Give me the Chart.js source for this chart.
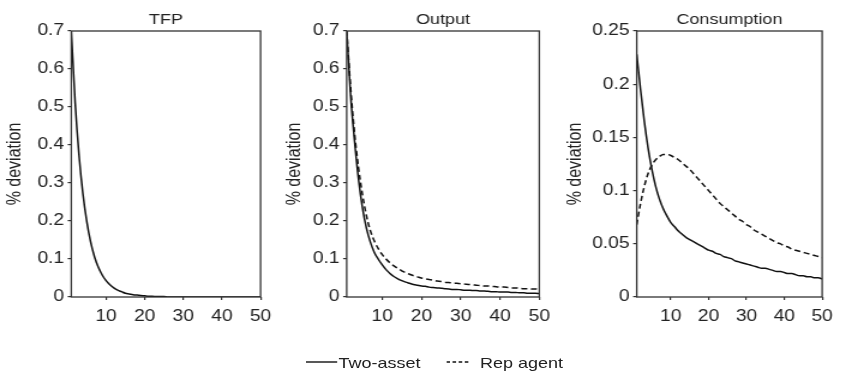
<!DOCTYPE html>
<html>
<head>
<meta charset="utf-8">
<script src="https://cdn.jsdelivr.net/npm/chart.js@4.4.1/dist/chart.umd.min.js"></script>
<style>
  html, body { margin: 0; padding: 0; background: #fff; }
  /* the whole figure is drawn slightly narrow and widened horizontally */
  #stage { position: absolute; left: 0; top: 0; width: 701px; height: 390px;
           transform: scaleX(1.2); transform-origin: 0 0; }
  #stage canvas { position: absolute; top: 0; }
  .leg { position: absolute; font-family: "Liberation Sans", Arial, sans-serif;
         font-size: 15px; color: #222; line-height: 18px; white-space: nowrap; }
</style>
</head>
<body>
<div id="stage">
  <canvas id="cTFP" width="233" height="330" style="left:0px;width:233px;height:330px"></canvas>
  <canvas id="cOut" width="234" height="330" style="left:233px;width:234px;height:330px"></canvas>
  <canvas id="cCons" width="234" height="330" style="left:467px;width:234px;height:330px"></canvas>
  <svg width="30" height="6" style="position:absolute;left:255px;top:359px">
    <line x1="0" y1="3" x2="26" y2="3" stroke="#111" stroke-width="1.4"/>
  </svg>
  <div class="leg" style="left:282px;top:354px">Two-asset</div>
  <svg width="22" height="6" style="position:absolute;left:372px;top:359px">
    <line x1="0" y1="3" x2="18.3" y2="3" stroke="#111" stroke-width="1.4" stroke-dasharray="3 2.1"/>
  </svg>
  <div class="leg" style="left:400px;top:354px">Rep agent</div>
</div>
<script>
// Impulse responses over 50 periods
const periods = Array.from({ length: 50 }, (_, i) => i + 1);

const tfp = [
  0.700, 0.511, 0.373, 0.272, 0.199, 0.145, 0.106, 0.078, 0.058, 0.043,
  0.032, 0.024, 0.018, 0.014, 0.010, 0.008, 0.006, 0.005, 0.004, 0.003,
  0.002, 0.002, 0.001, 0.001, 0.001, 0.000, 0.000, 0.000, 0.000, 0.000,
  0.000, 0.000, 0.000, 0.000, 0.000, 0.000, 0.000, 0.000, 0.000, 0.000,
  0.000, 0.000, 0.000, 0.000, 0.000, 0.000, 0.000, 0.000, 0.000, 0.000
];

const outputTwoAsset = [
  0.700, 0.530, 0.410, 0.310, 0.235, 0.182, 0.145, 0.118, 0.100, 0.085,
  0.072, 0.062, 0.054, 0.048, 0.043, 0.039, 0.036, 0.033, 0.031, 0.029,
  0.028, 0.026, 0.025, 0.024, 0.023, 0.022, 0.021, 0.020, 0.020, 0.019,
  0.018, 0.018, 0.017, 0.017, 0.016, 0.016, 0.015, 0.014, 0.014, 0.013,
  0.013, 0.013, 0.012, 0.012, 0.011, 0.011, 0.010, 0.010, 0.010, 0.009
];

const outputRepAgent = [
  0.700, 0.550, 0.430, 0.340, 0.270, 0.215, 0.175, 0.148, 0.128, 0.112,
  0.100, 0.090, 0.082, 0.075, 0.069, 0.064, 0.060, 0.056, 0.053, 0.050,
  0.048, 0.046, 0.044, 0.042, 0.041, 0.039, 0.038, 0.037, 0.036, 0.035,
  0.034, 0.033, 0.032, 0.031, 0.030, 0.029, 0.029, 0.028, 0.027, 0.026,
  0.026, 0.025, 0.024, 0.024, 0.023, 0.022, 0.022, 0.021, 0.021, 0.020
];

const consTwoAsset = [
  0.228, 0.195, 0.165, 0.140, 0.120, 0.104, 0.092, 0.083, 0.076, 0.070,
  0.066, 0.062, 0.059, 0.056, 0.054, 0.052, 0.050, 0.048, 0.046, 0.044,
  0.043, 0.041, 0.040, 0.038, 0.037, 0.036, 0.034, 0.033, 0.032, 0.031,
  0.030, 0.029, 0.028, 0.027, 0.027, 0.026, 0.025, 0.024, 0.024, 0.023,
  0.022, 0.022, 0.021, 0.020, 0.020, 0.019, 0.019, 0.018, 0.018, 0.017
];

const consRepAgent = [
  0.068, 0.088, 0.104, 0.116, 0.124, 0.129, 0.132, 0.134, 0.134, 0.133,
  0.131, 0.129, 0.126, 0.123, 0.120, 0.116, 0.112, 0.108, 0.104, 0.100,
  0.096, 0.092, 0.088, 0.085, 0.082, 0.079, 0.076, 0.073, 0.071, 0.068,
  0.066, 0.063, 0.061, 0.059, 0.057, 0.055, 0.053, 0.051, 0.050, 0.048,
  0.047, 0.045, 0.044, 0.043, 0.042, 0.041, 0.040, 0.039, 0.038, 0.037
];

const xTicks = [10, 20, 30, 40, 50];
const yTicksLevel = [0, 0.1, 0.2, 0.3, 0.4, 0.5, 0.6, 0.7];
const yTicksCons = [0, 0.05, 0.1, 0.15, 0.2, 0.25];

const FONT = '"Liberation Sans", Arial, sans-serif';
const INK = '#111';
const TEXT = '#222';

// box around each plot area
const frame = {
  id: 'frame',
  afterDatasetsDraw(chart) {
    const { ctx, chartArea: a } = chart;
    ctx.save();
    ctx.strokeStyle = '#333';
    ctx.lineWidth = 1.3;
    ctx.strokeRect(a.left, a.top, a.right - a.left, a.bottom - a.top);
    ctx.restore();
  }
};

function series(values, dashed) {
  return {
    data: periods.map((p, i) => ({ x: p, y: values[i] })),
    borderColor: INK,
    borderWidth: 1.5,
    borderDash: dashed ? [5, 3] : [],
    pointRadius: 0,
    fill: false,
    cubicInterpolationMode: 'monotone'
  };
}

function panel(id, title, yMax, yTicks, datasets, yWidth, padRight) {
  const tickGrid = { display: true, drawOnChartArea: false, drawTicks: true,
                     tickLength: 3, color: '#333', lineWidth: 1.2 };
  new Chart(document.getElementById(id), {
    type: 'line',
    data: { datasets },
    plugins: [frame],
    options: {
      responsive: false,
      animation: false,
      layout: { padding: { left: 0, right: padRight, top: 0, bottom: 0 } },
      plugins: {
        legend: { display: false },
        tooltip: { enabled: false },
        title: {
          display: true, text: title, fullSize: false, color: TEXT,
          font: { family: FONT, size: 15, weight: 'normal' },
          padding: { top: 11, bottom: 2 }
        }
      },
      scales: {
        x: {
          type: 'linear', min: 1, max: 50,
          afterBuildTicks: s => { s.ticks = xTicks.map(v => ({ value: v })); },
          afterFit: s => { s.height = 33; },
          grid: tickGrid,
          border: { display: false },
          ticks: { color: TEXT, font: { family: FONT, size: 16 }, padding: 7,
                   maxRotation: 0, autoSkip: false }
        },
        y: {
          type: 'linear', min: 0, max: yMax,
          afterBuildTicks: s => { s.ticks = yTicks.map(v => ({ value: v })); },
          afterFit: s => { s.width = yWidth; },
          grid: tickGrid,
          border: { display: false },
          ticks: { color: TEXT, font: { family: FONT, size: 16 }, padding: 3,
                   autoSkip: false, callback: v => String(v) },
          title: { display: true, text: '% deviation', color: TEXT,
                   font: { family: FONT, size: 16 }, padding: { top: 3, bottom: 0 } }
        }
      }
    }
  });
}

panel('cTFP', 'TFP', 0.7, yTicksLevel, [series(tfp, false)], 59.4, 13);
panel('cOut', 'Output', 0.7, yTicksLevel,
      [series(outputTwoAsset, false), series(outputRepAgent, true)], 55.9, 17.6);
panel('cCons', 'Consumption', 0.25, yTicksCons,
      [series(consTwoAsset, false), series(consRepAgent, true)], 63.6, 9.9);
</script>
</body>
</html>
